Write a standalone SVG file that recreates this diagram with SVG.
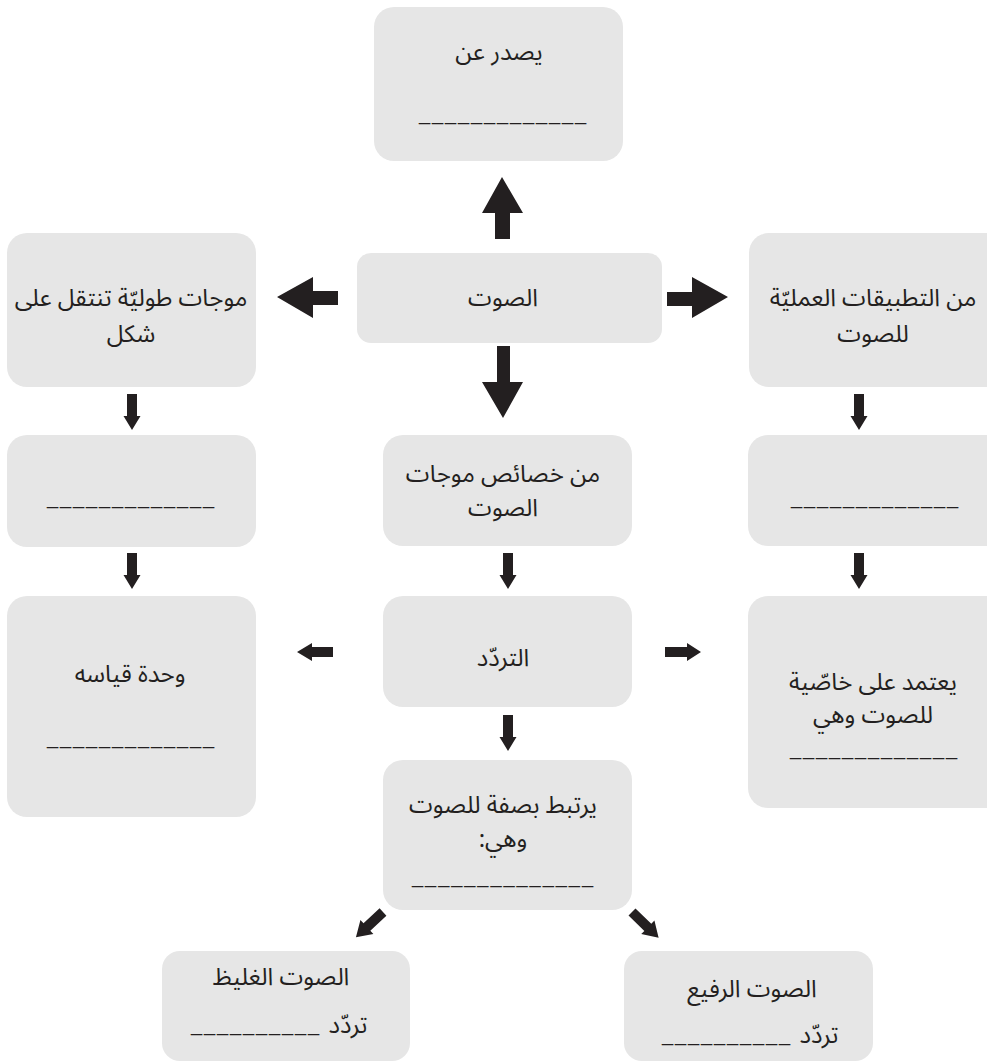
<svg xmlns="http://www.w3.org/2000/svg" width="987" height="1062" viewBox="0 0 987 1062">
<style>
.box{fill:#e6e6e6}
.t{font-family:"Noto Sans Arabic","DejaVu Sans","Noto Sans",sans-serif;font-size:24px;fill:#231f20;text-anchor:middle;direction:rtl}
.d{font-family:"Liberation Sans",Arial,sans-serif;font-size:20px;fill:#231f20}
.a{fill:#231f20}
</style>
<defs>
<path id="sdown" d="M-5,0 H5 V22 H8.5 L0,36 L-8.5,22 H-5 Z"/>
<path id="diag" d="M0,-5 H22 V-9.5 L37,0 L22,9.5 V5 H0 Z"/>
</defs>
<rect width="987" height="1062" fill="#ffffff"/>

<g id="connectors" class="a">
  <polygon points="495,239 510,239 510,213 523,213 502,177 482,213 495,213"/>
  <polygon points="497,346 510,346 510,382 523,382 503,418 482,382 497,382"/>
  <polygon points="338,291 338,305 313,305 313,318 277,297 313,277 313,291"/>
  <polygon points="667,292 692,292 692,277 728,297 692,318 692,306 667,306"/>
  <use href="#sdown" x="132" y="394"/>
  <use href="#sdown" x="132" y="553"/>
  <use href="#sdown" x="859" y="394"/>
  <use href="#sdown" x="859" y="553"/>
  <use href="#sdown" x="508" y="553"/>
  <use href="#sdown" x="508" y="715"/>
  <polygon points="333,647 333,657 312,657 312,661 297,652 312,643 312,647"/>
  <polygon points="665,647 687,647 687,643 701,652 687,661 687,657 665,657"/>
  <use href="#diag" transform="translate(383,912) rotate(137)"/>
  <use href="#diag" transform="translate(632,912) rotate(44)"/>
</g>

<g id="n-top">
  <rect class="box" x="374" y="7" width="249" height="154" rx="20"/>
  <text class="t" x="499" y="60">يصدر عن</text>
  <text class="d" x="419" y="120" textLength="167" lengthAdjust="spacing">_____________</text>
</g>
<g id="n-sound">
  <rect class="box" x="357" y="253" width="305" height="90" rx="14"/>
  <text class="t" x="503" y="306">الصوت</text>
</g>
<g id="n-left1">
  <rect class="box" x="7" y="233" width="249" height="154" rx="20"/>
  <text class="t" x="131" y="306">موجات طوليّة تنتقل على</text>
  <text class="t" x="131" y="342">شكل</text>
</g>
<g id="n-right1">
  <rect class="box" x="749" y="233" width="260" height="154" rx="20"/>
  <text class="t" x="873" y="306">من التطبيقات العمليّة</text>
  <text class="t" x="873" y="342">للصوت</text>
</g>
<g id="n-left2">
  <rect class="box" x="7" y="435" width="249" height="112" rx="20"/>
  <text class="d" x="47" y="504" textLength="167" lengthAdjust="spacing">_____________</text>
</g>
<g id="n-right2">
  <rect class="box" x="748" y="435" width="260" height="111" rx="20"/>
  <text class="d" x="791" y="504" textLength="167" lengthAdjust="spacing">_____________</text>
</g>
<g id="n-props">
  <rect class="box" x="383" y="435" width="249" height="111" rx="20"/>
  <text class="t" x="503" y="482">من خصائص موجات</text>
  <text class="t" x="503" y="516">الصوت</text>
</g>
<g id="n-freq">
  <rect class="box" x="383" y="596" width="249" height="111" rx="20"/>
  <text class="t" x="503" y="666">التردّد</text>
</g>
<g id="n-unit">
  <rect class="box" x="7" y="596" width="249" height="221" rx="20"/>
  <text class="t" x="130" y="682">وحدة قياسه</text>
  <text class="d" x="47" y="744" textLength="167" lengthAdjust="spacing">_____________</text>
</g>
<g id="n-depends">
  <rect class="box" x="748" y="596" width="260" height="212" rx="20"/>
  <text class="t" x="873" y="690">يعتمد على خاصّية</text>
  <text class="t" x="873" y="723">للصوت وهي</text>
  <text class="d" x="790" y="755" textLength="167" lengthAdjust="spacing">_____________</text>
</g>
<g id="n-relates">
  <rect class="box" x="383" y="760" width="249" height="150" rx="20"/>
  <text class="t" x="503" y="813">يرتبط بصفة للصوت</text>
  <text class="t" x="503" y="847">وهي:</text>
  <text class="d" x="412" y="883" textLength="181" lengthAdjust="spacing">______________</text>
</g>
<g id="n-low">
  <rect class="box" x="162" y="951" width="248" height="110" rx="18"/>
  <text class="t" x="281" y="985">الصوت الغليظ</text>
  <text class="t" x="348" y="1033">تردّد</text>
  <text class="d" x="191" y="1031" textLength="128" lengthAdjust="spacing">__________</text>
</g>
<g id="n-high">
  <rect class="box" x="624" y="951" width="249" height="110" rx="18"/>
  <text class="t" x="752" y="997">الصوت الرفيع</text>
  <text class="t" x="819" y="1043">تردّد</text>
  <text class="d" x="662" y="1041" textLength="128" lengthAdjust="spacing">__________</text>
</g>
</svg>
